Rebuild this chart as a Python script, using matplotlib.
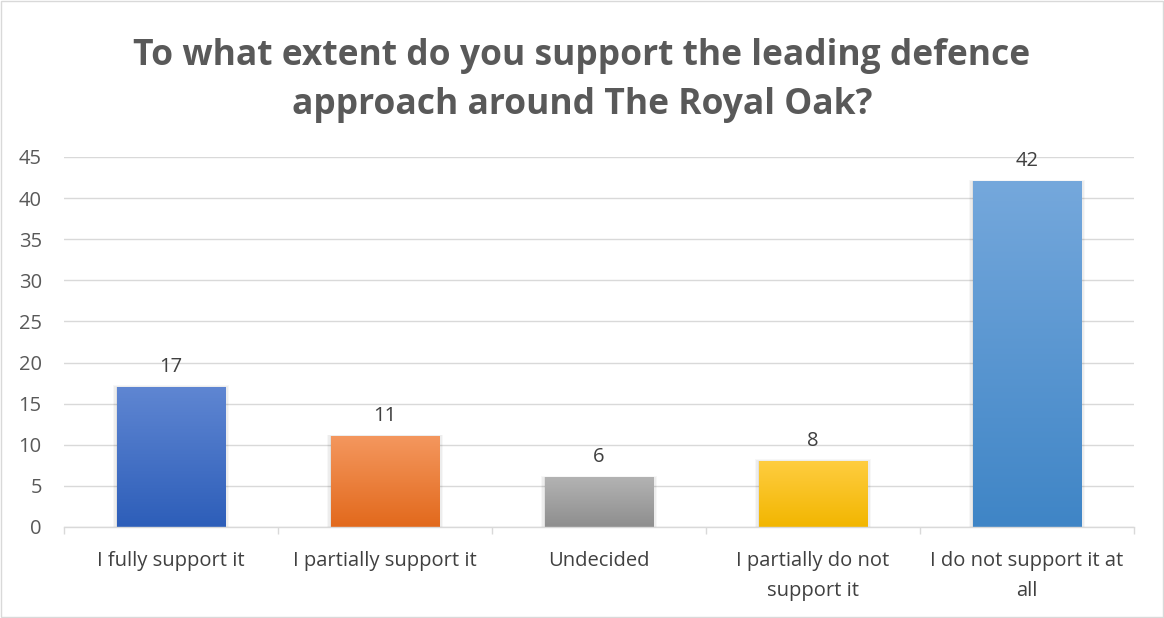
import numpy as np
import matplotlib
matplotlib.use('Agg')
import matplotlib.pyplot as plt
from matplotlib.colors import LinearSegmentedColormap
from matplotlib.patches import Rectangle

plt.rcParams['font.family'] = ['Open Sans', 'DejaVu Sans']

categories = ["I fully support it", "I partially support it", "Undecided",
              "I partially do not\nsupport it", "I do not support it at\nall"]
counts = [17, 11, 6, 8, 42]
# top / bottom colour of each bar's gradient
top_colors = ["#5F86D2", "#F4975E", "#B3B3B3", "#FFCD40", "#75A8DC"]
bottom_colors = ["#2D5EB9", "#E2691C", "#8E8E8E", "#F2B600", "#3F85C6"]

title = "To what extent do you support the leading defence\napproach around The Royal Oak?"

fig = plt.figure(figsize=(11.64, 6.18), dpi=100)
ax = fig.add_axes([64 / 1164, 1 - 527 / 618, 1070 / 1164, 370 / 618])

x = np.arange(len(categories))
width = 0.505
bars = ax.bar(x, counts, width=width, color='none', zorder=3)

for bar, c_top, c_bot, v in zip(bars, top_colors, bottom_colors, counts):
    x0, w, h = bar.get_x(), bar.get_width(), bar.get_height()
    # soft shadow
    for k, a in enumerate([0.03, 0.04, 0.05]):
        pad_x = 0.006 * (3 - k)
        pad_y = 0.07 * (3 - k)
        ax.add_patch(Rectangle((x0 - pad_x, 0), w + 2 * pad_x, h + pad_y,
                               facecolor='black', alpha=a, linewidth=0, zorder=2))
    cmap = LinearSegmentedColormap.from_list('g', [c_bot, c_top])
    grad = np.linspace(0, 1, 256).reshape(-1, 1)
    ax.imshow(grad, cmap=cmap, origin='lower', aspect='auto',
              extent=(x0, x0 + w, 0, h), zorder=3)
    ax.text(bar.get_x() + w / 2, h + 1.3, str(v), ha='center', va='bottom',
            fontsize=14.5, color='#404040', zorder=4)

ax.set_xlim(-0.5, len(categories) - 0.5)
ax.set_ylim(0, 45)
ax.set_yticks(range(0, 46, 5))
ax.set_xticks(x)
ax.set_xticklabels(categories, fontsize=14.5, color='#404040', linespacing=1.7)
ax.set_xticks(np.arange(-0.5, len(categories), 1), minor=True)
ax.tick_params(axis='x', which='major', length=0, pad=17)
ax.tick_params(axis='x', which='minor', length=5, color='#D9D9D9', width=1)
ax.tick_params(axis='y', length=0, labelsize=14.5, labelcolor='#595959', pad=16)
ax.grid(axis='y', color='#D9D9D9', linewidth=1, zorder=0)
ax.set_axisbelow(True)
for s in ['top', 'right', 'left']:
    ax.spines[s].set_visible(False)
ax.spines['bottom'].set_color('#D9D9D9')
ax.spines['bottom'].set_linewidth(1)
ax.spines['bottom'].set_zorder(5)

fig.suptitle(title, y=1 - 38 / 618, va='top', fontsize=25.5, fontweight='bold',
             color='#595959', linespacing=1.48)

# outer chart border
fig.patches.append(Rectangle((0.001, 0.001), 0.998, 0.997, transform=fig.transFigure,
                             fill=False, edgecolor='#D9D9D9', linewidth=1))

fig.savefig('out.png', dpi=100)
